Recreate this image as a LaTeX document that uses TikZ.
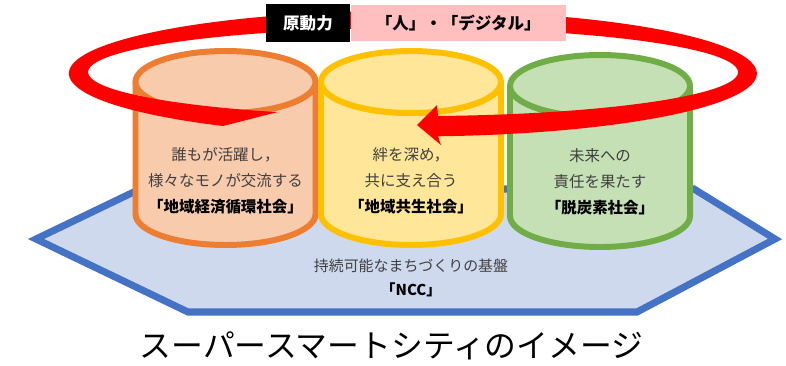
\documentclass[tikz,border=0pt]{standalone}
\usepackage{fontspec}
\setmainfont{Noto Sans CJK JP}
\usetikzlibrary{positioning}

\definecolor{ncOrange}{HTML}{ED7D31}
\definecolor{ncOrangeFill}{HTML}{F8CBAD}
\definecolor{ncYellow}{HTML}{FFC000}
\definecolor{ncYellowFill}{HTML}{FFE699}
\definecolor{ncGreen}{HTML}{70AD47}
\definecolor{ncGreenFill}{HTML}{C5E0B4}
\definecolor{ncBlue}{HTML}{4472C4}
\definecolor{ncBlueFill}{HTML}{CFD9EE}
\definecolor{ncRed}{HTML}{FF0000}
\definecolor{ncPink}{HTML}{FFBFBF}
\definecolor{ncGray}{HTML}{404040}

\begin{document}
\begin{tikzpicture}[x=0.02cm, y=-0.02cm,
        base/.style={draw=ncBlue, fill=ncBlueFill, line width=4pt, line join=miter},
        cyltext/.style={align=center, text=ncGray, inner sep=0pt, font=\fontsize{8.8}{14.7}\selectfont},
        tagbox/.style={inner sep=0pt, minimum height=0.76cm, font=\bfseries\fontsize{9.4}{11}\selectfont}]
        \useasboundingbox (0,0) rectangle (786,365);

        % base of the city
        \draw[base] (36,239) -- (140,189) -- (694,189) -- (775,239) -- (637,312) -- (188,312) -- cycle;

        % three societies
        \foreach \cx/\yt/\yb/\edge/\inside in {225.5/82/214/ncOrange/ncOrangeFill, 411/82/214/ncYellow/ncYellowFill, 600/86/216/ncGreen/ncGreenFill}
        {
            \filldraw[draw=\edge, fill=\inside, line width=3.4pt]
                (\cx-90,\yt) -- (\cx-90,\yb) arc[start angle=180, end angle=0, x radius=90, y radius=31]
                -- (\cx+90,\yt) arc[start angle=0, end angle=180, x radius=90, y radius=31] -- cycle;
            \filldraw[draw=\edge, fill=\inside, line width=3.4pt] (\cx,\yt) ellipse[x radius=90, y radius=31];
        }

        % driving force ring
        \fill[ncRed] (223,126) arc[start angle=123.5, end angle=445.8, x radius=344, y radius=63]
            -- (441,145) -- (417,125) -- (437,105) -- (438,116)
            arc[start angle=445.6, end angle=114.7, x radius=325, y radius=44] -- cycle;

        \node[cyltext] (economy) at (225.5,181) {誰もが活躍し，\\様々なモノが交流する\\\textcolor{black}{\bfseries「地域経済循環社会」}};
        \node[cyltext] (symbiosis) at (411,181) {絆を深め，\\共に支え合う\\\textcolor{black}{\bfseries「地域共生社会」}};
        \node[cyltext] (carbon) at (600,182) {未来への\\責任を果たす\\\textcolor{black}{\bfseries「脱炭素社会」}};

        \node[cyltext, font=\fontsize{8.5}{13.6}\selectfont] (ncc) at (411,278) {持続可能なまちづくりの基盤\\\textcolor{black}{\bfseries「NCC」}};

        \node[tagbox, fill=black, text=white, minimum width=1.68cm] (power) at (308,23) {原動力};
        \node[tagbox, fill=ncPink, minimum width=4.3cm, minimum height=0.72cm, right=0pt of power] (keys) {「人」・「デジタル」};

        \node[font=\fontsize{18.1}{20}\selectfont] (title) at (391.5,346) {スーパースマートシティのイメージ};
    \end{tikzpicture}
\end{document}
